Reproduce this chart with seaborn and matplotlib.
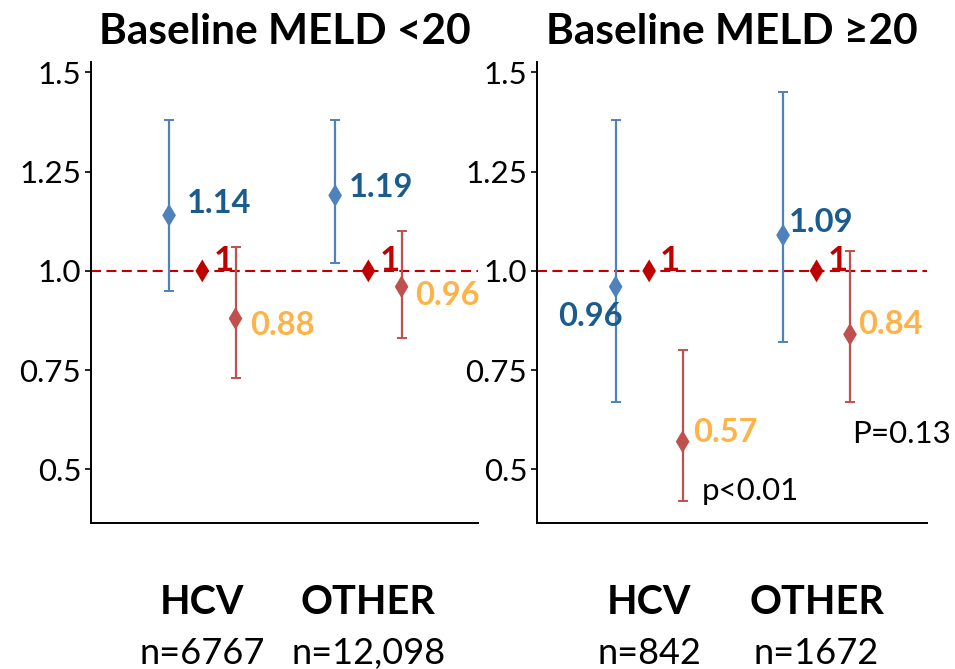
import matplotlib
matplotlib.use("Agg")
import matplotlib.pyplot as plt
import seaborn as sns
import pandas as pd

# ---------------- data ----------------
panel_titles = ["Baseline MELD <20", "Baseline MELD \u226520"]
groups = ["HCV", "OTHER"]
n_labels = [["n=6767", "n=12,098"], ["n=842", "n=1672"]]

blue_est = [[1.14, 1.19], [0.96, 1.09]]
blue_lo = [[0.95, 1.02], [0.67, 0.82]]
blue_hi = [[1.38, 1.38], [1.38, 1.45]]

red_est = [[0.88, 0.96], [0.57, 0.84]]
red_lo = [[0.73, 0.83], [0.42, 0.67]]
red_hi = [[1.06, 1.10], [0.80, 1.05]]

ref_val = [1, 1]
p_texts = [[None, None], ["p<0.01", "P=0.13"]]

yticks = [0.5, 0.75, 1.0, 1.25, 1.5]
ytick_labels = ["0.5", "0.75", "1.0", "1.25", "1.5"]

# ---------------- style ----------------
sns.set_style("ticks")
plt.rcParams["font.family"] = ["Lato", "DejaVu Sans"]
plt.rcParams["text.color"] = "black"

C_BLUE = "#4F81BD"
C_BLUE_TXT = "#1B5C8E"
C_RED = "#C0504D"
C_ORANGE = "#FDB347"
C_REF = "#C00000"

OFF = 0.2
# label offsets in pixels (dx, dy, ha)
blue_lab_off = [[(18, 2, "left"), (14, -2, "left")], [(7, -39, "right"), (6, 3, "left")]]
red_lab_off = [[(15, -16, "left"), (14, -18, "left")], [(10, 0, "left"), (8, 0, "left")]]
p_off = [[None, None], [(19, 1), (2, -41)]]

fig = plt.figure(figsize=(9.55, 6.69), dpi=100)
axes = [fig.add_axes([0.0953, 0.2182, 0.4052, 0.6891]),
        fig.add_axes([0.5623, 0.2182, 0.4084, 0.6891])]

for p, ax in enumerate(axes):
    xs = list(range(len(groups)))
    df = pd.DataFrame({
        "x": [x - OFF for x in xs] + xs + [x + OFF for x in xs],
        "y": blue_est[p] + ref_val + red_est[p],
        "series": ["blue"] * 2 + ["ref"] * 2 + ["red"] * 2,
    })
    ax.axhline(1.0, color=C_REF, lw=1.5, ls=(0, (4.8, 2.6)), zorder=1)

    ax.errorbar([x - OFF for x in xs], blue_est[p],
                yerr=[[e - l for e, l in zip(blue_est[p], blue_lo[p])],
                      [h - e for e, h in zip(blue_est[p], blue_hi[p])]],
                fmt="none", ecolor=C_BLUE, elinewidth=1.6, capsize=3.5, capthick=1.4, zorder=2)
    ax.errorbar([x + OFF for x in xs], red_est[p],
                yerr=[[e - l for e, l in zip(red_est[p], red_lo[p])],
                      [h - e for e, h in zip(red_est[p], red_hi[p])]],
                fmt="none", ecolor=C_RED, elinewidth=1.6, capsize=3.5, capthick=1.4, zorder=2)

    sns.scatterplot(data=df, x="x", y="y", hue="series",
                    palette={"blue": C_BLUE, "ref": C_REF, "red": C_RED},
                    marker="d", s=135, linewidth=0, legend=False, ax=ax, zorder=3)

    for i, x in enumerate(xs):
        dx, dy, ha = blue_lab_off[p][i]
        ax.annotate(f"{blue_est[p][i]:g}", xy=(x - OFF, blue_est[p][i]), xytext=(dx, dy),
                    textcoords="offset pixels", ha=ha, va="baseline",
                    fontsize=23.5, fontweight="bold", color=C_BLUE_TXT)
        dx, dy, ha = red_lab_off[p][i]
        ax.annotate(f"{red_est[p][i]:g}", xy=(x + OFF, red_est[p][i]), xytext=(dx, dy),
                    textcoords="offset pixels", ha=ha, va="baseline",
                    fontsize=23.5, fontweight="bold", color=C_ORANGE)
        ax.annotate(f"{ref_val[i]:g}", xy=(x, ref_val[i]), xytext=(11, 0),
                    textcoords="offset pixels", ha="left", va="baseline",
                    fontsize=25, fontweight="bold", color=C_REF)
        if p_texts[p][i]:
            dx, dy = p_off[p][i]
            ax.annotate(p_texts[p][i], xy=(x + OFF, red_lo[p][i]), xytext=(dx, dy),
                        textcoords="offset pixels", ha="left", va="baseline",
                        fontsize=22.5, color="black")
        ax.annotate(groups[i], xy=(x, 0), xycoords=("data", "axes fraction"),
                    xytext=(0, -91), textcoords="offset pixels", ha="center", va="baseline",
                    fontsize=28.5, fontweight="bold", color="black", annotation_clip=False)
        ax.annotate(n_labels[p][i], xy=(x, 0), xycoords=("data", "axes fraction"),
                    xytext=(0, -141), textcoords="offset pixels", ha="center", va="baseline",
                    fontsize=26, color="black", annotation_clip=False)

    ax.set_xlim(-0.67, 1.66)
    ax.set_ylim(0.365, 1.526)
    ax.set_yticks(yticks)
    ax.set_yticklabels(ytick_labels)
    ax.set_xticks([])
    ax.set_xlabel("")
    ax.set_ylabel("")
    ax.tick_params(axis="y", direction="out", length=4, width=1.2, pad=3,
                   labelsize=22.5, colors="black")
    sns.despine(ax=ax)
    for s in ["left", "bottom"]:
        ax.spines[s].set_linewidth(1.4)
        ax.spines[s].set_color("black")
    ax.set_title(panel_titles[p], fontsize=30.5, fontweight="bold", pad=13, color="black")

fig.savefig("out.png", dpi=100)
